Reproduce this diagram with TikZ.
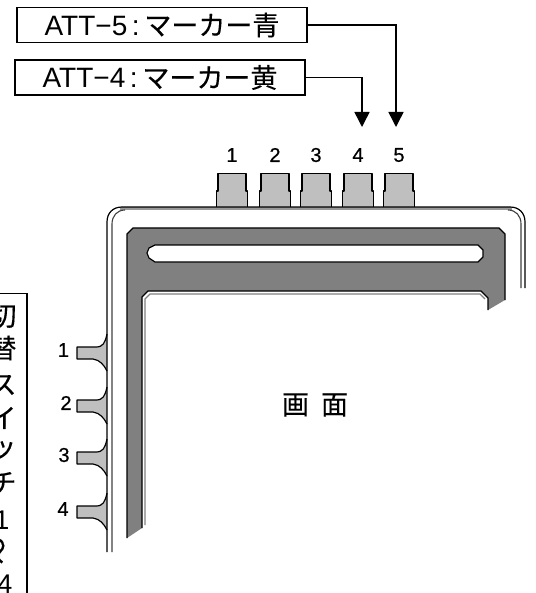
\documentclass[tikz,border=0pt]{standalone}
\usepackage{fontspec}
\setmainfont{Noto Sans CJK JP}[FakeBold=0.25]
\newfontfamily\latinfont{Liberation Sans}
\newfontfamily\digitfont{Liberation Sans}[FakeBold=0.6]
\usetikzlibrary{arrows.meta}
\definecolor{btn}{gray}{0.75}
\definecolor{panel}{gray}{0.5}
\tikzset{
  x=1pt,y=-1pt,
  labelbox/.style={draw=black,line width=1.5pt,fill=white,minimum width=290pt,minimum height=35pt,inner sep=0pt,font=\fontsize{27}{27}\selectfont},
  link/.style={draw=black,line width=1.5pt,-{Triangle[length=15pt,width=15pt]}},
  num/.style={font=\digitfont\fontsize{20}{20}\selectfont,inner sep=0pt},
  vch/.style={inner sep=0pt,font=\fontsize{27}{27}\selectfont},
  knob/.style={draw=black,line width=1.2pt,fill=btn,line join=round},
  edge line/.style={draw=black,line width=1.2pt},
  trim line/.style={draw=black!75,line width=1.1pt}
}
\newcommand{\labeltext}[2]{{\latinfont\fontsize{28}{28}\selectfont ATT−#1\,:\,}#2}
\begin{document}
\begin{tikzpicture}
\useasboundingbox (0,0) rectangle (535,593);
\clip (0,0) rectangle (535,593);
% labelled boxes and their connectors
\node[labelbox] (att5) at (162,25) {\labeltext{5}{マーカー青}};
\node[labelbox] (att4) at (160,77.5) {\labeltext{4}{マーカー黄}};
\coordinate (tip4) at (362,127);
\coordinate (tip5) at (396,127);
\draw[link] (att5.east) -| (tip5);
\draw[link] (att4.east) -| (tip4);
% top buttons
\foreach \c/\n in {232/1,275/2,316/3,358/4,399/5}{
  \node[num] (top\n) at (\c,155) {\n};
  \draw[knob] (\c-15.5,207) -- (\c-15.5,191) -- (\c-14,191) -- (\c-14,173.5) -- (\c+14,173.5) -- (\c+14,191) -- (\c+15.5,191) -- (\c+15.5,207);
}
% left levers
\foreach \c/\n/\lx in {353/1/63.5,406/2/66,458/3/64,512/4/63}{
  \node[num] (side\n) at (\lx,\c-3) {\n};
  \fill[btn] (107,\c-19) .. controls (105,\c-10) and (103,\c-6) .. (96,\c-6) -- (77,\c-6) -- (77,\c+6) -- (93,\c+6) .. controls (100,\c+7) and (104,\c+12) .. (107,\c+18) -- cycle;
  \draw[knob,fill=none] (107,\c-19) .. controls (105,\c-10) and (103,\c-6) .. (96,\c-6) -- (77,\c-6) -- (77,\c+6) -- (93,\c+6) .. controls (100,\c+7) and (104,\c+12) .. (107,\c+18);
}
% outer casing
\fill[btn!80!black] (120,207) rectangle (512,210);
\draw[edge line] (107,552) -- (107,222) .. controls (107,213) and (113,207) .. (122,207) -- (510,207) .. controls (519,207) and (525,213) .. (525,222) -- (525,288);
\draw[trim line] (112,552) -- (112,224) .. controls (112,216) and (117,210) .. (125,210);
\draw[trim line] (508,210) .. controls (516,210) and (521,216) .. (521,224) -- (521,288);
% grey panel
\fill[panel] (127,538) -- (127,234) -- (133,228) -- (499,228) -- (505,234) -- (505,300) -- (488,310) -- (488,298) -- (481,291) -- (148,291) -- (142,297) -- (142,528) -- cycle;
\draw[black,line width=1.2pt] (127,538) -- (127,234) -- (133,228) -- (499,228) -- (505,234) -- (505,300);
\draw[black,line width=1.2pt] (488,310) -- (488,298) -- (481,291) -- (148,291) -- (142,297) -- (142,528);
\draw[panel,line width=1.2pt] (145,525) -- (145,299) -- (150,294) -- (480,294) -- (485,299);
% slot
\draw[black,line width=1.2pt,fill=white] (155,245) -- (478,245) -- (483,250) -- (483,257) -- (478,262) -- (155,262) -- (149,258) -- (147,253) -- (149,248) -- cycle;
% screen label
\node[inner sep=0pt,font=\fontsize{27}{27}\selectfont] (screen) at (315,405) {\spaceskip=12pt 画 面};
% vertical label box
\draw[draw=black,line width=1.5pt] (-5,293.5) -- (27,293.5) -- (27,600);
\foreach \t/\y/\xx in {切/316/3,替/348/3,ス/385/3,イ/418/3,ッ/450/3,チ/483/3}{
  \node[vch] at (\xx,\y) {\t};
}
\node[vch,font=\latinfont\fontsize{27}{27}\selectfont] (one) at (2,520) {1};
\node[vch,font=\latinfont\fontsize{27}{27}\selectfont] (four) at (5,584) {4};
\node[vch,rotate=90] (wave) at (4,551) {～};
\end{tikzpicture}
\end{document}
